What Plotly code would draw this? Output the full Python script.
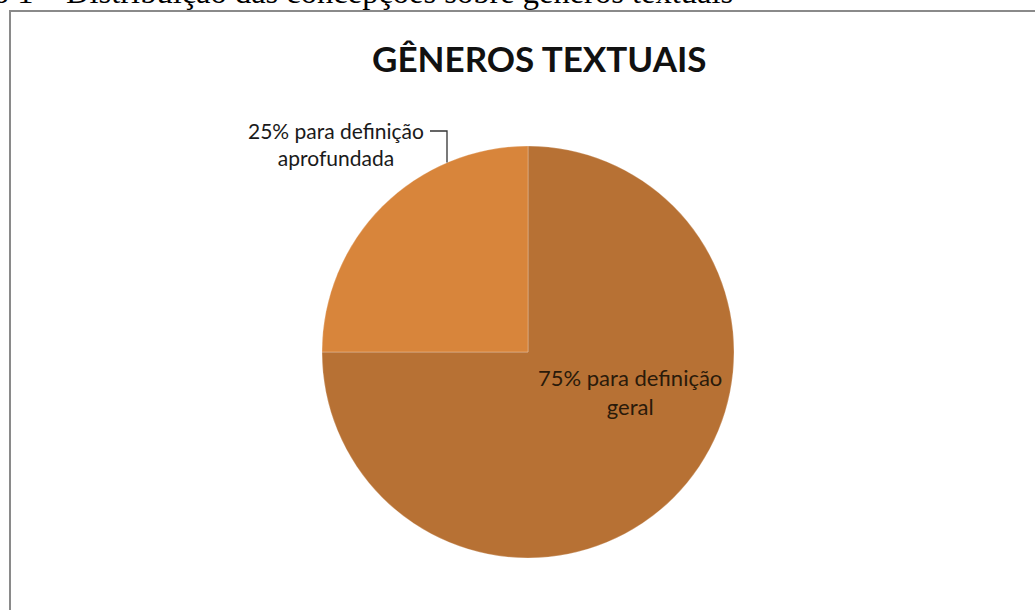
import math
import plotly.graph_objects as go

# Data
categories = ["definição geral", "definição aprofundada"]
shares = [75, 25]
label_suffix = ["para definição<br>geral", "para definição<br>aprofundada"]
slice_colors = ["#B77134", "#D8853B"]

W, H = 1035, 610
cx, cy, R = 528, 352, 206  # pie centre / radius in pixels

fig = go.Figure(
    go.Pie(
        labels=categories,
        values=shares,
        sort=False,
        direction="clockwise",
        rotation=0,
        marker=dict(colors=slice_colors, line=dict(color="rgba(255,255,255,0.25)", width=1)),
        textinfo="none",
        hoverinfo="label+percent",
        showlegend=False,
        domain=dict(x=[(cx - R) / W, (cx + R) / W], y=[(H - cy - R) / H, (H - cy + R) / H]),
    )
)

label_family = "Lato, 'Open Sans', sans-serif"

# Label of the large slice, inside the slice
fig.add_annotation(
    x=630 / W, y=1 - 392 / H, xref="paper", yref="paper",
    xanchor="center", yanchor="middle",
    text=f"{shares[0]}% {label_suffix[0]}", showarrow=False,
    font=dict(family=label_family, size=22, color="#2a1a0a"), align="center",
)

# Label of the small slice, outside with a leader line
fig.add_annotation(
    x=336 / W, y=1 - 144 / H, xref="paper", yref="paper",
    xanchor="center", yanchor="middle",
    text=f"{shares[1]}% {label_suffix[1]}", showarrow=False,
    font=dict(family=label_family, size=21, color="#1a1a1a"), align="center",
)
# leader line: from end of the first text line across, then down to the slice edge
lead_x = 447
lead_y = cy - math.sqrt(R ** 2 - (cx - lead_x) ** 2)
fig.add_shape(
    type="path", xref="paper", yref="paper",
    path=(f"M {430 / W} {1 - 131 / H} L {lead_x / W} {1 - 131 / H} "
          f"L {lead_x / W} {1 - lead_y / H}"),
    line=dict(color="#333333", width=1.3),
)

# Chart title
fig.add_annotation(
    x=539 / W, y=1 - 58 / H, xref="paper", yref="paper",
    xanchor="center", yanchor="middle",
    text="<b>GÊNEROS TEXTUAIS</b>", showarrow=False,
    font=dict(family=label_family, size=35, color="#111111"),
)

# Figure caption above the chart frame
fig.add_annotation(
    x=735 / W, y=1 - 12 / H, xref="paper", yref="paper",
    xanchor="right", yanchor="bottom",
    text="Gráfico 1 – Distribuição das concepções sobre gêneros textuais",
    showarrow=False,
    font=dict(family="'Liberation Serif', 'Times New Roman', serif", size=32.5, color="#000000"),
)

# Chart frame
fig.add_shape(
    type="rect", xref="paper", yref="paper",
    x0=10 / W, x1=1.05, y0=-0.05, y1=1 - 11 / H,
    line=dict(color="#8a8a8a", width=2), fillcolor="rgba(0,0,0,0)",
)

fig.update_layout(
    width=W, height=H,
    margin=dict(l=0, r=0, t=0, b=0, autoexpand=False),
    paper_bgcolor="white", plot_bgcolor="white",
)

fig.write_html("out.html")
